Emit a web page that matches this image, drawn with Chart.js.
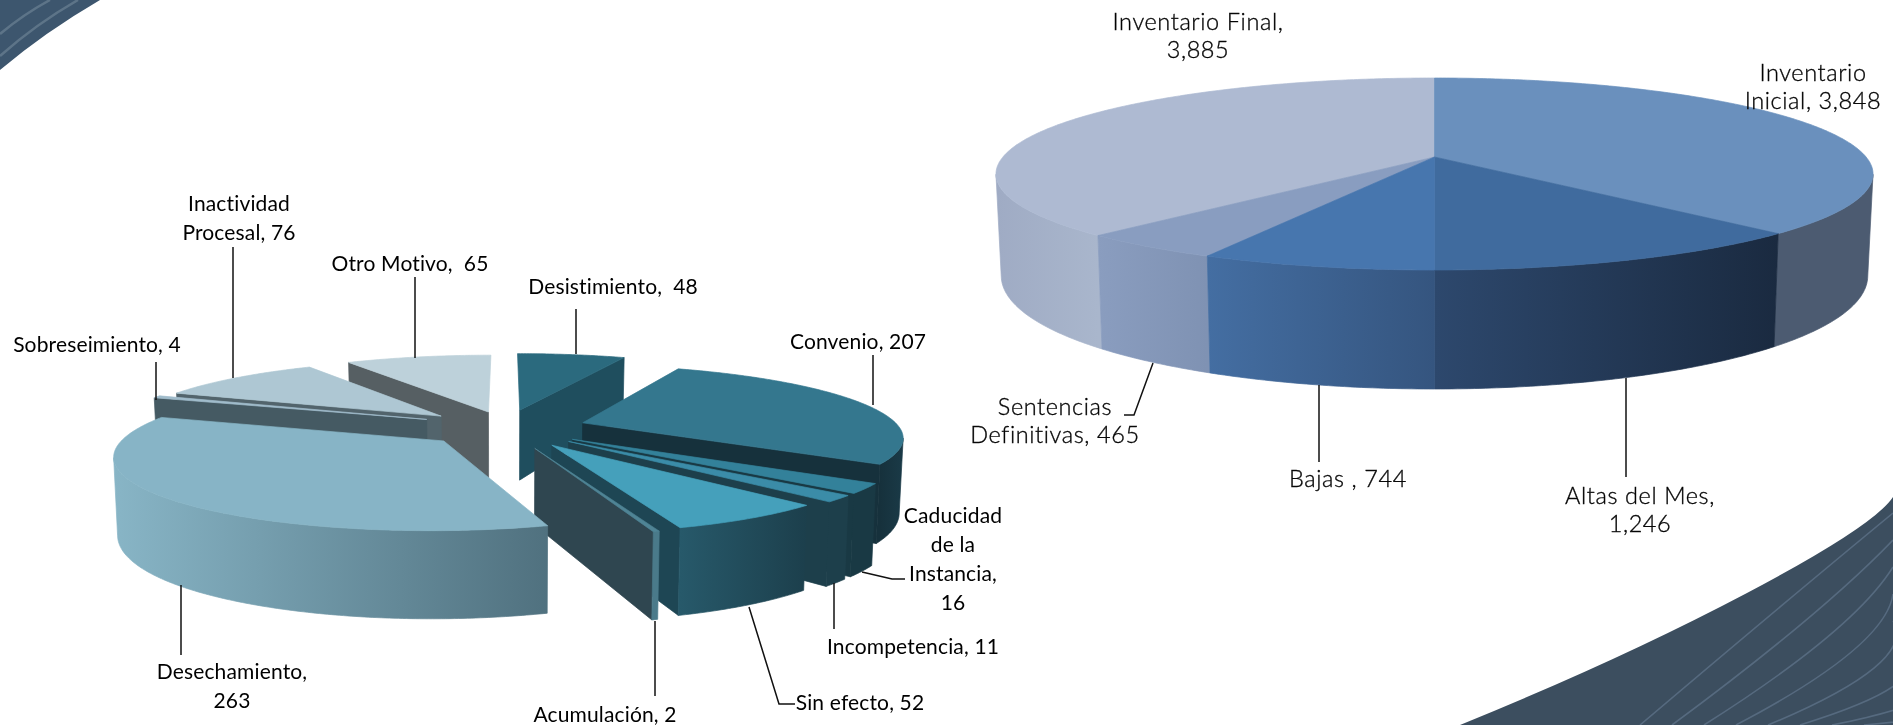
<!DOCTYPE html>
<html>
<head>
<meta charset="utf-8">
<title>Inventario y motivos de baja</title>
<script src="https://cdn.jsdelivr.net/npm/chart.js@4"></script>
<style>
  html, body { margin: 0; padding: 0; background: #fff; overflow: hidden; }
  #page { position: relative; width: 1893px; height: 725px; }
  #page svg, #page canvas { position: absolute; left: 0; top: 0; }
</style>
</head>
<body>
<div id="page">
  <svg width="1893" height="725" id="bg">
    <path d="M0,0 L100,0 Q45,32 0,70 Z" fill="#3d566e"/>
    <path d="M0,34 Q24,14 50,0 M0,56 Q36,24 78,0" stroke="#5d7488" stroke-width="2.5" fill="none"/>
    <path d="M1460,725 Q1620,660 1747,593 T1893,497 L1893,725 Z" fill="#3c4e5f"/>
    <g id="hatch" stroke="#566a7f" stroke-width="1.6" fill="none"></g>
  </svg>
  <canvas id="leftPie" width="1893" height="725"></canvas>
  <canvas id="rightPie" width="1893" height="725"></canvas>
</div>
<script>
// left pie: motivos de baja, clockwise from 12 o'clock
const motivoNames = ["Desistimiento", "Convenio", "Caducidad de la Instancia", "Incompetencia", "Sin efecto",
  "Acumulación", "Desechamiento", "Sobreseimiento", "Inactividad Procesal", "Otro Motivo"];
const motivoValues = [48, 207, 16, 11, 52, 2, 263, 4, 76, 65];
const motivoOffset = [76, 82, 82, 85, 87, 92, 82, 85, 86, 63];
const motivoDrop = [-2, 0, 0, 0, 0, 0, 0, -2, 0, -3];
const motivoScale = [1.03, 1, 0.98, 0.97, 0.95, 0.94, 0.985, 1, 1, 1.02];
const motivoOrder = [9, 0, 8, 1, 7, 2, 3, 4, 5, 6]; // back to front
const motivoTop = ["#2b6a7e", "#34778e", "#33819a", "#3b8ca8", "#45a0bb", "#4f8495", "#87b4c6", "#a0bccb", "#aec7d3", "#bdd1da"];
const motivoFace = ["#1f4e5e", "#16313c", "#193944", "#1d3f4b", "#1e4654", "#2f4650", "#50717f", "#455a63", "#52646c", "#565f63"];
const motivoWallLeft = ["#1f4e5e", "#16313c", "#193944", "#1d3f4b", "#27596a", "#4a7a8a", "#88b5c6", "#455a63", "#52646c", "#565f63"];
const motivoWallRight = ["#1f4e5e", "#1a3a47", "#193944", "#1d3f4b", "#1c3f4c", "#4a7a8a", "#50717f", "#455a63", "#52646c", "#565f63"];

// right pie: inventario
const inventarioNames = ["Inventario Inicial", "Altas del Mes", "Bajas", "Sentencias Definitivas", "Inventario Final"];
const inventarioValues = [3848, 1246, 744, 465, 3885];
const inventarioOrder = [4, 0, 3, 1, 2];
const inventarioTop = ["#6a90bd", "#406b9e", "#4776ae", "#899dc0", "#aebad2"];
const inventarioWallLeft = ["#4c5b71", "#2d486d", "#446ea2", "#8a9dbf", "#9fabc4"];
const inventarioWallRight = ["#4c5b71", "#1a2a40", "#35557f", "#7f92b3", "#a9b6cc"];

const motivoLabels = [
  { lines: ["Desistimiento,  48"], x: 613, y: 287, leader: [[576, 309], [576, 354]] },
  { lines: ["Convenio, 207"], x: 858, y: 342, leader: [[873, 355], [873, 405]] },
  { lines: ["Caducidad", "de la", "Instancia,", "16"], x: 953, y: 516, leader: [[862, 572], [892, 579], [905, 579]] },
  { lines: ["Incompetencia, 11"], x: 913, y: 647, leader: [[834, 583], [834, 629]] },
  { lines: ["Sin efecto, 52"], x: 860, y: 703, leader: [[749, 607], [779, 704], [795, 704]] },
  { lines: ["Acumulación, 2"], x: 605, y: 715, leader: [[655, 621], [655, 696]] },
  { lines: ["Desechamiento,", "263"], x: 232, y: 672, leader: [[181, 585], [181, 655]] },
  { lines: ["Sobreseimiento, 4"], x: 97, y: 345, leader: [[156, 362], [156, 400]] },
  { lines: ["Inactividad", "Procesal, 76"], x: 239, y: 204, leader: [[233, 247], [233, 378]] },
  { lines: ["Otro Motivo,  65"], x: 410, y: 264, leader: [[415, 277], [415, 358]] }
];
const inventarioLabels = [
  { lines: ["Inventario", "Inicial, 3,848"], x: 1813, y: 73, leader: [] },
  { lines: ["Altas del Mes,", "1,246"], x: 1640, y: 496, leader: [[1626, 378], [1626, 477]] },
  { lines: ["Bajas , 744"], x: 1348, y: 479, leader: [[1319, 385], [1319, 462]] },
  { lines: ["Sentencias", "Definitivas, 465"], x: 1055, y: 407, leader: [[1153, 363], [1134, 415], [1124, 415]] },
  { lines: ["Inventario Final,", "3,885"], x: 1198, y: 22, leader: [] }
];

// hatch lines of the background corner
const hatch = document.getElementById("hatch");
[1640, 1672, 1704, 1736, 1768, 1800, 1832, 1864].forEach(function (x0, i) {
  const p = document.createElementNS("http://www.w3.org/2000/svg", "path");
  const yEnd = 513 + i * 27;
  p.setAttribute("d", "M" + x0 + ",725 Q" + (x0 + 150) + "," + (725 - (725 - yEnd) * 0.6) + " 1893," + yEnd);
  hatch.appendChild(p);
});

// draws the arcs the doughnut controller laid out as a tilted cylinder
function pie3d(view) {
  function project(U, V, drop) {
    const w = 1 - view.k * V;
    return { x: view.cx + view.B * U / w, y: view.cy + view.A * V / w + drop, V: V };
  }
  function under(p) {
    return { x: view.cx + (p.x - view.cx) * view.bx, y: p.y + view.h0 + view.h1 * p.V };
  }
  function fillPath(ctx, pts, color) {
    ctx.beginPath();
    pts.forEach(function (p, i) { if (i) ctx.lineTo(p.x, p.y); else ctx.moveTo(p.x, p.y); });
    ctx.closePath();
    ctx.fillStyle = color;
    ctx.strokeStyle = color;
    ctx.lineWidth = 0.7;
    ctx.fill();
    ctx.stroke();
  }
  function drawSlice(ctx, el, i) {
    const e = (el.options.offset || 0) / el.outerRadius;
    const mid = (el.startAngle + el.endAngle) / 2;
    const dU = e * Math.cos(mid), dV = e * Math.sin(mid);
    const drop = view.drop ? view.drop[i] : 0;
    const f = view.scale ? view.scale[i] : 1;
    const apex = project(dU, dV, drop);
    const steps = Math.max(2, Math.ceil((el.endAngle - el.startAngle) * 90));
    const rim = [];
    for (let s = 0; s <= steps; s++) {
      const t = el.startAngle + (el.endAngle - el.startAngle) * s / steps;
      rim.push(project(dU + f * Math.cos(t), dV + f * Math.sin(t), drop));
    }
    if (e > 0) {
      const last = rim[rim.length - 1];
      if (Math.cos(el.endAngle) > 0) fillPath(ctx, [apex, last, under(last), under(apex)], view.face[i]);
      if (Math.cos(el.startAngle) < 0) fillPath(ctx, [apex, rim[0], under(rim[0]), under(apex)], view.face[i]);
    }
    const front = rim.filter(function (p, s) {
      return (s < steps && rim[s + 1].x < p.x) || (s > 0 && p.x < rim[s - 1].x);
    });
    if (front.length > 1) {
      const grad = ctx.createLinearGradient(front[front.length - 1].x, 0, front[0].x, 0);
      grad.addColorStop(0, view.wallLeft[i]);
      grad.addColorStop(1, view.wallRight[i]);
      fillPath(ctx, front.concat(front.map(under).reverse()), grad);
    }
    fillPath(ctx, [apex].concat(rim), view.top[i]);
  }
  return {
    id: "pie3d",
    beforeDatasetsDraw: function (chart) {
      const ctx = chart.ctx;
      const arcs = chart.getDatasetMeta(0).data;
      ctx.save();
      view.order.forEach(function (i) { drawSlice(ctx, arcs[i], i); });
      ctx.restore();
      return false;
    },
    afterDraw: function (chart) {
      const ctx = chart.ctx;
      ctx.save();
      ctx.font = view.font;
      ctx.letterSpacing = view.tracking;
      ctx.fillStyle = "#000";
      ctx.strokeStyle = "#111";
      ctx.textAlign = "center";
      ctx.textBaseline = "middle";
      view.labels.forEach(function (lab) {
        ctx.lineWidth = view.embolden;
        lab.lines.forEach(function (line, n) {
          ctx.fillText(line, lab.x, lab.y + n * view.leading);
          if (view.embolden) ctx.strokeText(line, lab.x, lab.y + n * view.leading);
        });
        if (lab.leader.length) {
          ctx.lineWidth = 1.5;
          ctx.beginPath();
          lab.leader.forEach(function (p, n) { if (n) ctx.lineTo(p[0], p[1]); else ctx.moveTo(p[0], p[1]); });
          ctx.stroke();
        }
      });
      ctx.restore();
    }
  };
}

function makePie(canvasId, names, values, offsets, view) {
  return new Chart(document.getElementById(canvasId), {
    type: "pie",
    data: {
      labels: names,
      datasets: [{ data: values, offset: offsets, hoverOffset: 0, borderWidth: 0, backgroundColor: view.top }]
    },
    options: {
      responsive: false,
      animation: false,
      devicePixelRatio: 1,
      events: [],
      plugins: { legend: { display: false }, tooltip: { enabled: false } }
    },
    plugins: [pie3d(view)]
  });
}

makePie("leftPie", motivoNames, motivoValues, motivoOffset, {
  cx: 505, cy: 428, B: 317, A: 70, k: 0.177, h0: 73, h1: 13, bx: 0.99,
  drop: motivoDrop, scale: motivoScale, order: motivoOrder,
  top: motivoTop, face: motivoFace, wallLeft: motivoWallLeft, wallRight: motivoWallRight,
  labels: motivoLabels, font: "21px Lato", tracking: "0.15px", leading: 29, embolden: 0
});

makePie("rightPie", inventarioNames, inventarioValues, 0, {
  cx: 1434.5, cy: 157, B: 431.6, A: 93, k: 0.177, h0: 98, h1: 21, bx: 0.988, order: inventarioOrder,
  top: inventarioTop, face: inventarioTop, wallLeft: inventarioWallLeft, wallRight: inventarioWallRight,
  labels: inventarioLabels, font: "300 23.5px Lato", tracking: "0.6px", leading: 28, embolden: 0.35
});
</script>
</body>
</html>
